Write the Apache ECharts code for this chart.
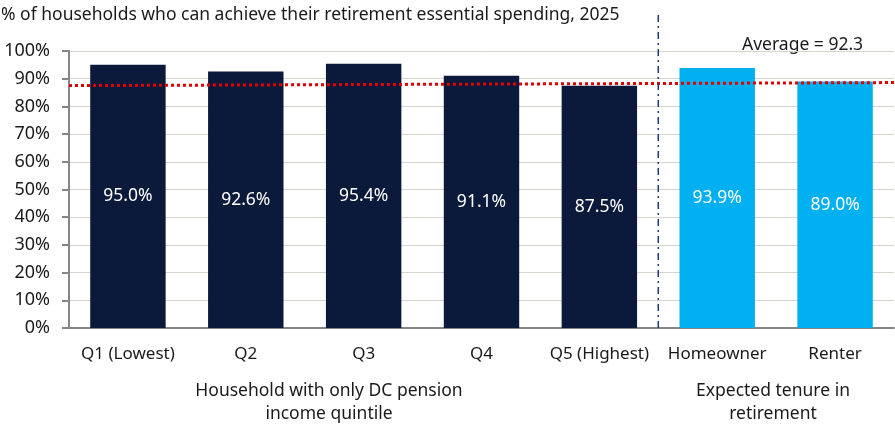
<!DOCTYPE html>
<html>
<head>
<meta charset="utf-8">
<script src="https://cdn.jsdelivr.net/npm/echarts@6/dist/echarts.min.js"></script>
<style>
  html, body { margin: 0; padding: 0; background: #fff; }
  #main { width: 895px; height: 441px; }
</style>
</head>
<body>
<div id="main"></div>
<script>
// categories and values
var categories = ['Q1 (Lowest)', 'Q2', 'Q3', 'Q4', 'Q5 (Highest)', 'Homeowner', 'Renter'];
var values = [95.0, 92.6, 95.4, 91.1, 87.5, 93.9, 89.0];
var barColors = ['#0b1a3b', '#0b1a3b', '#0b1a3b', '#0b1a3b', '#0b1a3b', '#00b0f0', '#00b0f0'];
// average line as drawn (ends) and the group divider
var averageLine = [[0, 87.5], [7, 88.6]];
var dividerLine = [[5, 0], [5, 113]];
var averageText = 'Average = 92.3';
var titleText = '% of households who can achieve their retirement essential spending, 2025';
var groupLabels = ['Household with only DC pension\nincome quintile', 'Expected tenure in\nretirement'];

var font = 'Noto Sans';
var fs = 17.5;
var myChart = echarts.init(document.getElementById('main'));

var option = {
    animation: false,
    textStyle: { fontFamily: font },
    grid: { left: 69, right: 1, top: 51, bottom: 113 },
    xAxis: [
        {
            type: 'category',
            data: categories,
            axisTick: { show: false },
            axisLine: { lineStyle: { color: '#868686', width: 2 } },
            axisLabel: { interval: 0, hideOverlap: false, color: '#1a1a1a', fontSize: 17, margin: 18, fontFamily: font }
        },
        {
            type: 'value',
            min: 0,
            max: 7,
            show: false
        }
    ],
    yAxis: {
        type: 'value',
        min: 0,
        max: 100,
        interval: 10,
        axisLine: { show: true, lineStyle: { color: '#868686', width: 2 } },
        axisTick: { show: true, length: 7, lineStyle: { color: '#868686', width: 2 } },
        axisLabel: { formatter: '{value}%', color: '#1a1a1a', fontSize: 18, margin: 19, fontFamily: font },
        splitLine: { lineStyle: { color: '#d6d4cc', width: 1 } }
    },
    series: [
        {
            type: 'bar',
            barWidth: '64%',
            data: values.map(function (v, i) {
                return { value: v, itemStyle: { color: barColors[i] } };
            }),
            label: {
                show: true,
                position: 'inside',
                color: '#ffffff',
                fontSize: fs,
                fontFamily: font,
                formatter: function (p) { return p.value.toFixed(1) + '%'; }
            }
        },
        {
            type: 'line',
            xAxisIndex: 1,
            data: averageLine,
            symbol: 'none',
            lineStyle: { color: '#e00000', width: 3, type: [3, 3] },
            z: 5
        },
        {
            type: 'line',
            xAxisIndex: 1,
            data: dividerLine,
            symbol: 'none',
            clip: false,
            lineStyle: { color: '#1f3a6e', width: 1.5, type: [7, 4, 2, 4] },
            z: 5
        }
    ],
    graphic: [
        {
            type: 'text', left: 1, top: 6,
            style: { text: titleText, fill: '#1a1a1a', fontSize: fs, fontFamily: font }
        },
        {
            type: 'text', left: 742, top: 36,
            style: { text: averageText, fill: '#1a1a1a', fontSize: fs, fontFamily: font }
        },
        {
            type: 'text', x: 329, y: 380,
            style: { text: groupLabels[0], fill: '#1a1a1a', fontSize: fs, fontFamily: font, align: 'center', lineHeight: 23 }
        },
        {
            type: 'text', x: 773, y: 380,
            style: { text: groupLabels[1], fill: '#1a1a1a', fontSize: fs, fontFamily: font, align: 'center', lineHeight: 23 }
        }
    ]
};
myChart.setOption(option);
</script>
</body>
</html>
